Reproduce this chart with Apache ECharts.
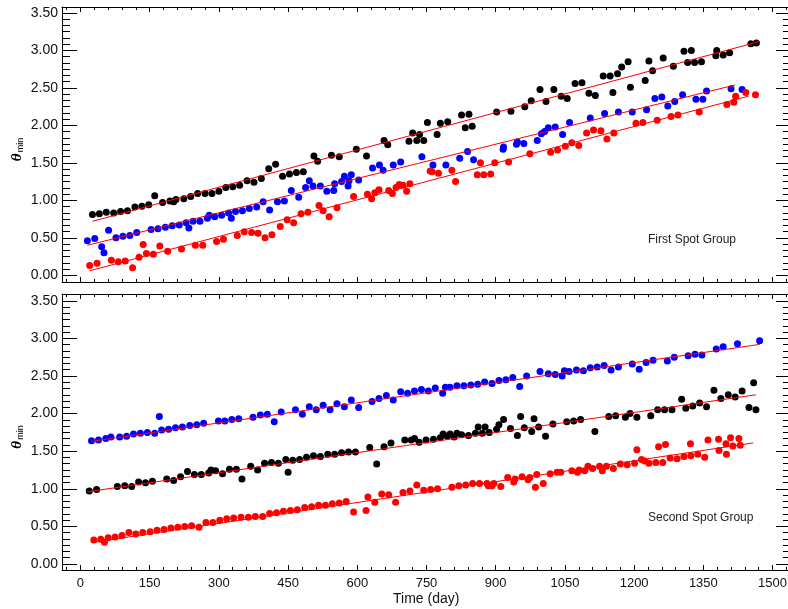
<!DOCTYPE html>
<html>
<head>
<meta charset="utf-8">
<script src="https://cdn.jsdelivr.net/npm/echarts@6/dist/echarts.min.js"></script>
<style>html,body{margin:0;padding:0;background:#fff}#main{width:788px;height:609px}</style>
</head>
<body>
<div id="main"></div>
<script>
// tick labels
var xTicks = [0,150,300,450,600,750,900,1050,1200,1350,1500];
var yTicks = [0,0.5,1,1.5,2,2.5,3,3.5];

// first spot group [day, theta_min]
var firstBlack = [[26,0.81],[41,0.82],[56,0.84],[72,0.83],[87,0.85],[102,0.86],[118,0.91],[133,0.92],[148,0.94],[161,1.06],[178,0.97],[194,0.99],[202,0.98],[207,1.01],[224,1.02],[239,1.05],[254,1.09],[270,1.09],[285,1.09],[300,1.12],[315,1.17],[330,1.18],[345,1.20],[361,1.26],[376,1.24],[392,1.29],[408,1.42],[423,1.48],[438,1.32],[453,1.35],[468,1.37],[483,1.38],[506,1.59],[514,1.52],[544,1.60],[561,1.58],[598,1.68],[620,1.59],[658,1.80],[666,1.74],[712,1.79],[720,1.90],[729,1.80],[735,1.88],[744,1.80],[752,2.04],[773,1.88],[780,2.03],[796,2.05],[826,2.14],[834,1.97],[842,2.15],[849,1.99],[902,2.18],[933,2.19],[963,2.25],[977,2.33],[996,2.48],[1009,2.32],[1026,2.48],[1042,2.39],[1055,2.36],[1072,2.56],[1087,2.57],[1102,2.43],[1116,2.40],[1133,2.66],[1148,2.66],[1154,2.44],[1164,2.69],[1173,2.78],[1187,2.85],[1192,2.51],[1224,2.60],[1232,2.86],[1240,2.73],[1263,2.90],[1285,2.79],[1308,2.99],[1316,2.84],[1324,3.00],[1331,2.84],[1346,2.85],[1377,2.93],[1379,3.00],[1393,2.94],[1407,2.97],[1453,3.09],[1465,3.10]];
var firstBlue = [[15,0.46],[31,0.49],[46,0.38],[51,0.30],[61,0.60],[77,0.50],[92,0.52],[107,0.53],[122,0.57],[153,0.61],[168,0.62],[184,0.64],[199,0.66],[214,0.67],[229,0.70],[235,0.63],[244,0.72],[259,0.72],[275,0.76],[279,0.80],[291,0.78],[306,0.80],[321,0.83],[327,0.76],[336,0.85],[351,0.86],[366,0.89],[382,0.91],[396,0.98],[410,0.87],[427,0.98],[442,0.99],[457,1.13],[473,1.04],[488,1.17],[496,1.26],[504,1.19],[520,1.19],[534,1.12],[549,1.13],[551,1.22],[566,1.25],[572,1.32],[580,1.19],[582,1.26],[587,1.34],[603,1.27],[633,1.43],[648,1.47],[656,1.40],[678,1.47],[694,1.51],[740,1.58],[764,1.47],[792,1.47],[822,1.56],[839,1.65],[852,1.54],[916,1.68],[917,1.71],[945,1.75],[947,1.78],[961,1.76],[990,1.80],[999,1.89],[1006,1.92],[1014,1.97],[1029,1.98],[1045,1.88],[1060,2.04],[1105,2.10],[1136,2.16],[1166,2.18],[1196,2.18],[1227,2.21],[1245,2.36],[1260,2.38],[1273,2.26],[1288,2.32],[1305,2.41],[1334,2.35],[1349,2.35],[1357,2.46],[1410,2.49],[1434,2.48]];
var firstRed = [[20,0.13],[36,0.16],[67,0.20],[82,0.18],[97,0.19],[113,0.10],[127,0.24],[136,0.41],[143,0.29],[158,0.28],[172,0.39],[189,0.32],[219,0.35],[249,0.40],[265,0.40],[295,0.45],[310,0.48],[340,0.53],[355,0.58],[371,0.57],[385,0.56],[400,0.50],[415,0.54],[433,0.65],[448,0.74],[462,0.70],[478,0.82],[493,0.84],[517,0.93],[526,0.86],[539,0.78],[556,0.90],[592,1.05],[622,1.08],[631,1.02],[638,1.10],[647,1.14],[668,1.13],[676,1.09],[684,1.17],[691,1.21],[699,1.20],[707,1.12],[714,1.22],[758,1.39],[762,1.38],[776,1.36],[805,1.40],[813,1.25],[860,1.34],[867,1.50],[874,1.34],[889,1.35],[898,1.50],[928,1.51],[974,1.62],[1019,1.64],[1034,1.67],[1051,1.72],[1065,1.77],[1080,1.73],[1097,1.90],[1112,1.94],[1128,1.93],[1141,1.82],[1156,1.90],[1204,2.03],[1219,2.04],[1250,2.07],[1280,2.12],[1295,2.14],[1341,2.18],[1401,2.28],[1416,2.31],[1420,2.39],[1442,2.44],[1463,2.41]];
// fitted lines, end points
var firstBlackFit = [[26,0.72],[1472,3.12]];
var firstBlueFit = [[15,0.40],[1419,2.54]];
var firstRedFit = [[20,0.06],[1448,2.39]];

// second spot group
var secondBlue = [[24,1.64],[39,1.65],[55,1.67],[66,1.69],[85,1.69],[100,1.70],[115,1.73],[130,1.74],[145,1.75],[161,1.74],[171,1.96],[176,1.78],[191,1.79],[206,1.81],[221,1.82],[237,1.84],[252,1.85],[267,1.87],[299,1.90],[313,1.90],[328,1.92],[343,1.93],[374,1.95],[390,1.98],[405,1.99],[420,1.89],[435,2.02],[466,2.05],[481,1.99],[496,2.09],[511,2.05],[526,2.11],[541,2.05],[556,2.13],[572,2.09],[587,2.18],[603,2.08],[632,2.16],[647,2.20],[663,2.24],[678,2.18],[694,2.29],[709,2.27],[724,2.30],[739,2.32],[754,2.30],[769,2.34],[785,2.27],[791,2.35],[801,2.35],[816,2.37],[831,2.37],[846,2.38],[861,2.39],[876,2.42],[892,2.40],[907,2.44],[922,2.45],[937,2.48],[952,2.36],[967,2.50],[996,2.56],[1014,2.53],[1029,2.52],[1044,2.50],[1049,2.57],[1059,2.56],[1075,2.58],[1090,2.57],[1105,2.61],[1120,2.62],[1135,2.64],[1150,2.58],[1166,2.62],[1196,2.66],[1211,2.59],[1226,2.68],[1241,2.71],[1272,2.70],[1287,2.75],[1317,2.77],[1332,2.79],[1347,2.78],[1378,2.86],[1393,2.89],[1424,2.93],[1472,2.97]];
var secondBlack = [[19,0.97],[35,0.99],[80,1.03],[96,1.04],[111,1.03],[126,1.09],[141,1.08],[156,1.10],[187,1.13],[202,1.11],[217,1.16],[232,1.23],[247,1.19],[262,1.19],[278,1.21],[283,1.25],[293,1.24],[308,1.20],[323,1.26],[338,1.26],[350,1.13],[369,1.30],[384,1.25],[399,1.34],[414,1.35],[429,1.34],[445,1.39],[450,1.22],[460,1.38],[475,1.39],[490,1.42],[505,1.44],[520,1.43],[536,1.46],[551,1.46],[566,1.48],[581,1.49],[596,1.49],[627,1.55],[642,1.33],[658,1.56],[673,1.61],[703,1.65],[717,1.65],[724,1.67],[734,1.62],[749,1.65],[765,1.66],[780,1.68],[786,1.73],[795,1.70],[801,1.73],[810,1.69],[816,1.74],[826,1.72],[841,1.71],[856,1.74],[862,1.82],[871,1.74],[877,1.82],[886,1.75],[902,1.79],[907,1.85],[917,1.92],[932,1.80],[947,1.71],[954,1.96],[962,1.81],[978,1.76],[983,1.93],[993,1.82],[1008,1.70],[1024,1.86],[1054,1.89],[1069,1.90],[1084,1.92],[1115,1.76],[1145,1.96],[1160,1.97],[1181,1.95],[1191,2.00],[1206,1.95],[1236,1.97],[1251,2.05],[1266,2.05],[1282,2.05],[1303,2.19],[1312,2.07],[1327,2.10],[1342,2.14],[1357,2.09],[1373,2.31],[1388,2.20],[1404,2.25],[1419,2.22],[1434,2.30],[1449,2.08],[1459,2.41],[1464,2.05]];
var secondRed = [[29,0.32],[44,0.33],[52,0.29],[60,0.35],[75,0.36],[90,0.38],[105,0.42],[120,0.40],[135,0.42],[151,0.43],[166,0.45],[181,0.46],[196,0.48],[211,0.49],[226,0.50],[241,0.51],[257,0.49],[272,0.55],[287,0.55],[302,0.58],[317,0.60],[332,0.61],[348,0.62],[364,0.62],[379,0.63],[395,0.63],[410,0.67],[425,0.68],[440,0.70],[455,0.71],[470,0.72],[486,0.75],[501,0.76],[516,0.78],[531,0.78],[546,0.80],[561,0.81],[576,0.83],[592,0.69],[619,0.71],[623,0.89],[638,0.82],[653,0.93],[668,0.92],[683,0.82],[699,0.95],[714,0.97],[729,1.05],[744,0.98],[759,0.99],[774,1.00],[805,1.02],[820,1.04],[835,1.05],[850,1.07],[865,1.07],[881,1.07],[884,1.04],[892,1.04],[896,1.07],[911,1.03],[926,1.15],[939,1.09],[942,1.13],[957,1.16],[970,1.12],[974,1.15],[986,1.02],[989,1.19],[1003,1.07],[1018,1.20],[1033,1.22],[1041,1.22],[1065,1.24],[1077,1.22],[1081,1.25],[1093,1.24],[1100,1.30],[1110,1.27],[1125,1.30],[1131,1.24],[1140,1.30],[1155,1.27],[1170,1.33],[1185,1.32],[1201,1.34],[1206,1.52],[1216,1.39],[1223,1.37],[1232,1.34],[1247,1.35],[1253,1.56],[1262,1.35],[1268,1.59],[1278,1.41],[1293,1.40],[1308,1.43],[1322,1.60],[1323,1.44],[1338,1.46],[1353,1.42],[1360,1.65],[1383,1.66],[1384,1.51],[1399,1.60],[1400,1.46],[1409,1.68],[1414,1.57],[1427,1.67],[1430,1.58]];
var secondBlueFit = [[24,1.63],[1472,2.92]];
var secondBlackFit = [[15,0.96],[1464,2.25]];
var secondRedFit = [[29,0.29],[1458,1.61]];

var myChart = echarts.init(document.getElementById('main'));
var FONT = 'Liberation Sans';

// minor tick positions
var xMinor = [];
for (var d = -30; d <= 1530; d += 30) { if (d % 150 !== 0) xMinor.push(d); }
var yMinor = [];
for (var k = 1; k < 42; k++) { if (k % 6 !== 0) yMinor.push(k * 0.5 / 6); }

function xAx(g, pos, ticks, len, line, labels) {
    return {
        type: 'value', gridIndex: g, position: pos, min: -40, max: 1540,
        axisLine: {show: line, onZero: false, lineStyle: {color: '#000', width: 1}},
        axisTick: {show: true, inside: true, length: len, customValues: ticks, lineStyle: {color: '#000'}},
        axisLabel: {show: labels, customValues: ticks, margin: 7, fontSize: 13, color: '#111', fontFamily: FONT,
            formatter: function (v) { return String(v); }},
        splitLine: {show: false}
    };
}
function yAx(g, pos, ticks, len, line, labels, lo, hi, name) {
    var ax = {
        type: 'value', gridIndex: g, position: pos, min: lo, max: hi,
        axisLine: {show: line, onZero: false, lineStyle: {color: '#000', width: 1}},
        axisTick: {show: true, inside: true, length: len, customValues: ticks, lineStyle: {color: '#000'}},
        axisLabel: {show: labels, customValues: ticks, margin: 4, fontSize: 14, color: '#111', fontFamily: FONT,
            formatter: function (v) { return v.toFixed(2); }},
        splitLine: {show: false}
    };
    if (name) {
        ax.name = '{a|θ}{b|min}';
        ax.nameLocation = 'middle';
        ax.nameRotate = 90;
        ax.nameGap = 37;
        ax.nameMoveOverlap = false;
        ax.nameTextStyle = {
            padding: [0, 10, 0, 0],
            rich: {
                a: {fontSize: 15, fontWeight: 'bold', fontStyle: 'italic', fontFamily: 'Liberation Serif', color: '#000', verticalAlign: 'top', lineHeight: 15, padding: [0, 1, 4, 0]},
                b: {fontSize: 9, fontFamily: FONT, color: '#000', verticalAlign: 'bottom', lineHeight: 9}
            }
        };
    }
    return ax;
}

var xAxes = [], yAxes = [];
var ranges = [[-0.09, 3.58], [-0.08, 3.59]];
for (var g = 0; g < 2; g++) {
    xAxes.push(xAx(g, 'bottom', xTicks, 5, true, g === 1));
    xAxes.push(xAx(g, 'bottom', xMinor, 3, false, false));
    xAxes.push(xAx(g, 'top', xTicks, 5, true, false));
    xAxes.push(xAx(g, 'top', xMinor, 3, false, false));
    yAxes.push(yAx(g, 'left', yTicks, 15, true, true, ranges[g][0], ranges[g][1], true));
    yAxes.push(yAx(g, 'left', yMinor, 8, false, false, ranges[g][0], ranges[g][1]));
    yAxes.push(yAx(g, 'right', yTicks, 15, true, false, ranges[g][0], ranges[g][1]));
    yAxes.push(yAx(g, 'right', yMinor, 8, false, false, ranges[g][0], ranges[g][1]));
}

function dots(data, color, ax) {
    return {type: 'scatter', xAxisIndex: ax, yAxisIndex: ax, data: data, symbolSize: 7,
        itemStyle: {color: color, opacity: 1}, z: 2};
}
function fit(data, ax) {
    return {type: 'line', xAxisIndex: ax, yAxisIndex: ax, data: data, symbol: 'none',
        lineStyle: {color: '#ff0000', width: 1}, z: 3};
}

var option = {
    animation: false,
    backgroundColor: '#fff',
    grid: [
        {left: 62, top: 7, width: 729, height: 275, containLabel: false, outerBoundsMode: 'none'},
        {left: 62, top: 294, width: 729, height: 276, containLabel: false, outerBoundsMode: 'none'}
    ],
    xAxis: xAxes,
    yAxis: yAxes,
    graphic: [
        {type: 'text', left: 648, top: 234, style: {text: 'First Spot Group', font: '12px "Liberation Sans"', fill: '#222'}},
        {type: 'text', left: 648, top: 512, style: {text: 'Second Spot Group', font: '12px "Liberation Sans"', fill: '#222'}},
        {type: 'text', left: 393, top: 592, style: {text: 'Time (day)', font: '14px "Liberation Sans"', fill: '#111'}}
    ],
    series: [
        dots(firstBlack, '#000000', 0),
        dots(firstBlue, '#0000ff', 0),
        dots(firstRed, '#ff0000', 0),
        fit(firstBlackFit, 0),
        fit(firstBlueFit, 0),
        fit(firstRedFit, 0),
        dots(secondBlue, '#0000ff', 4),
        dots(secondBlack, '#000000', 4),
        dots(secondRed, '#ff0000', 4),
        fit(secondBlueFit, 4),
        fit(secondBlackFit, 4),
        fit(secondRedFit, 4)
    ]
};
myChart.setOption(option);
</script>
</body>
</html>
